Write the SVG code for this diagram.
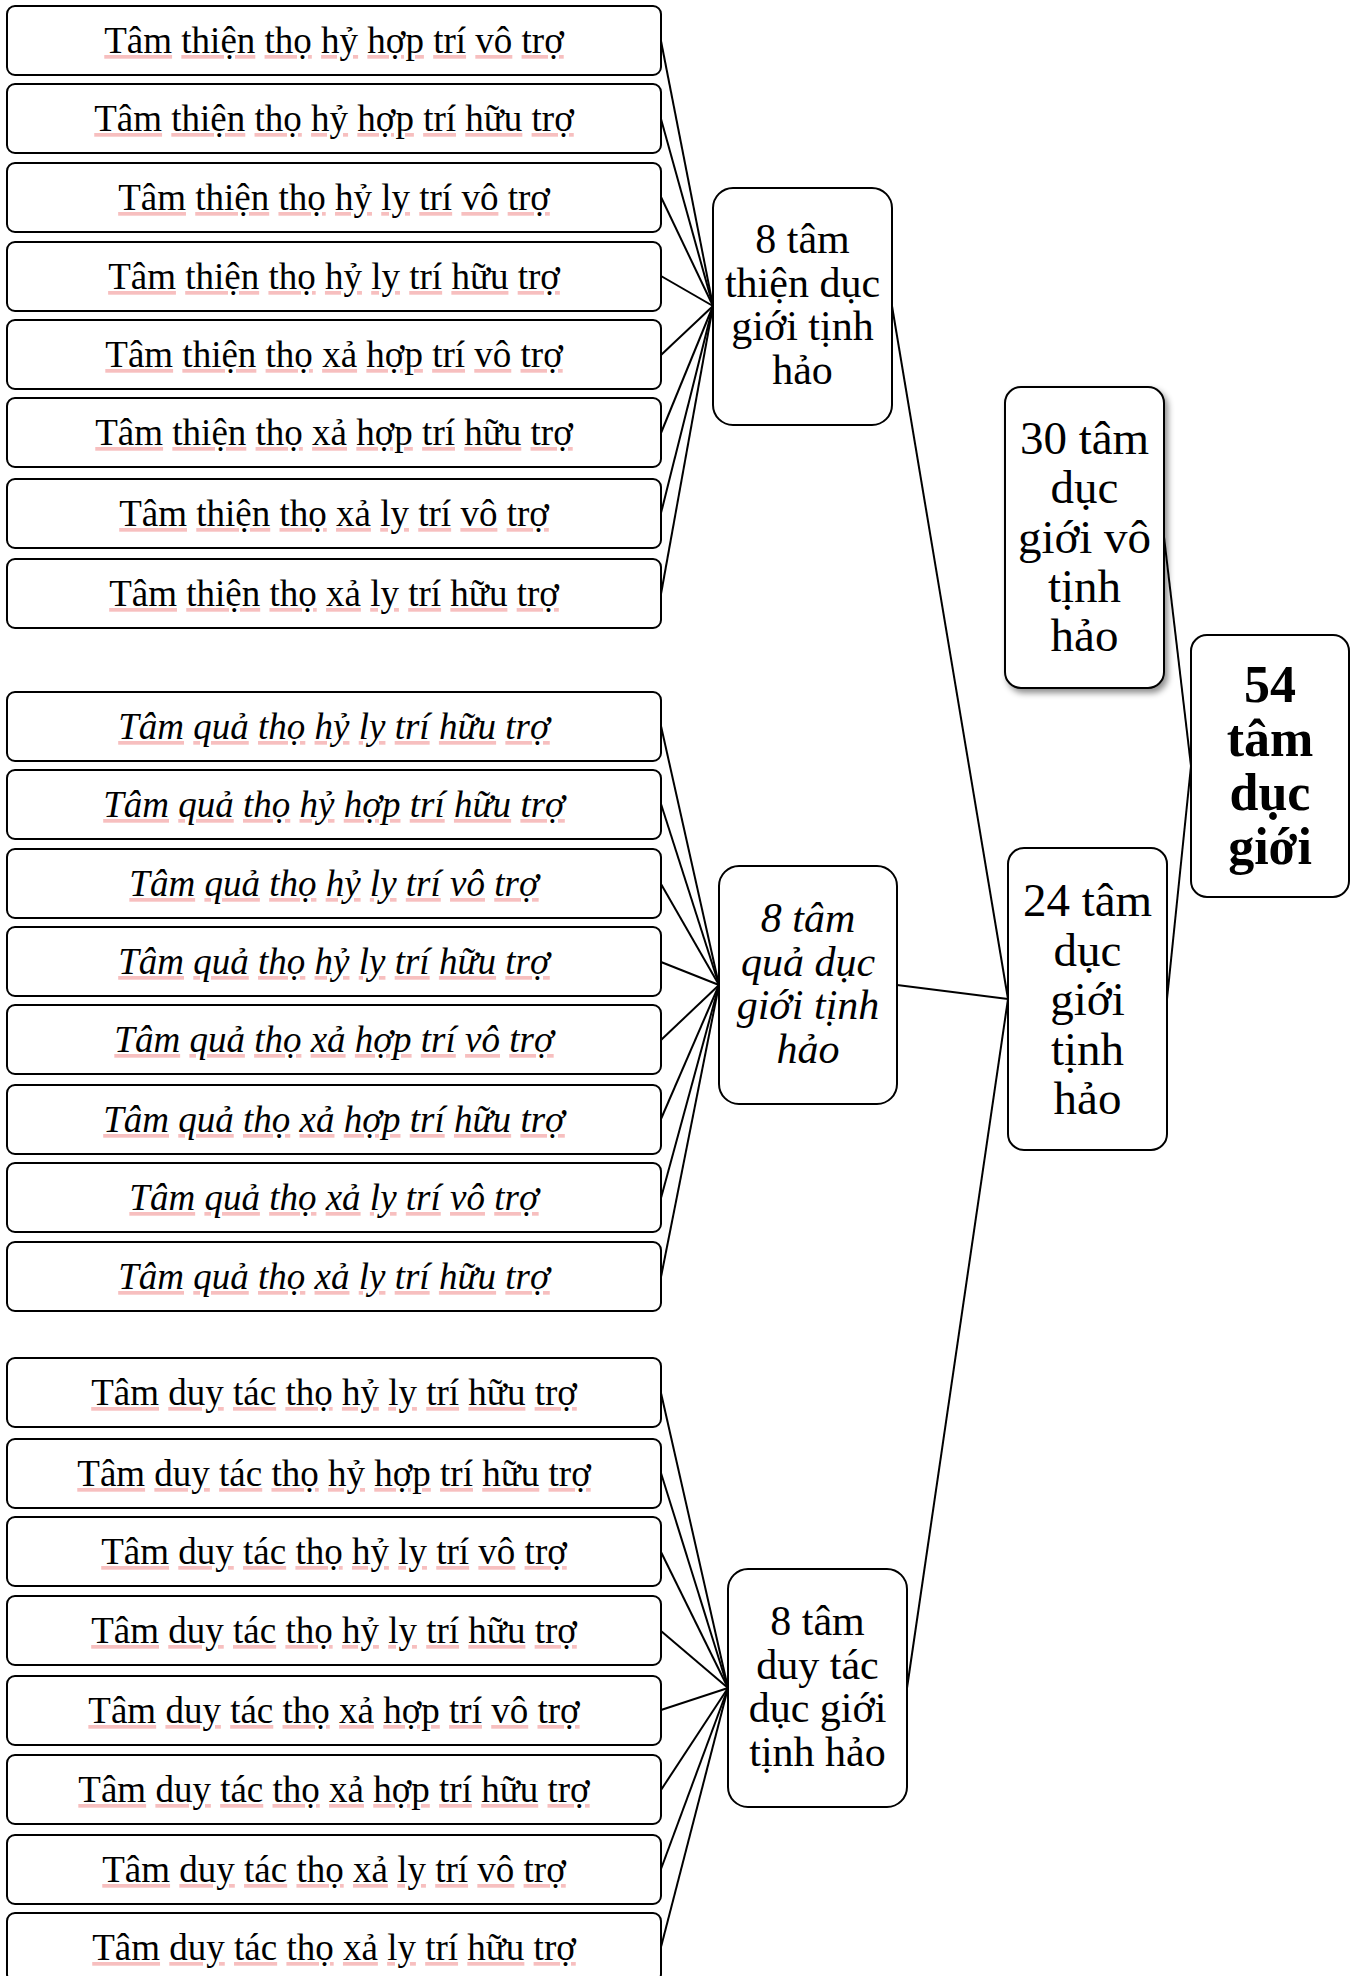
<svg xmlns="http://www.w3.org/2000/svg" width="1357" height="1976" viewBox="0 0 1357 1976">
  <style>
    .box { fill: #ffffff; stroke: #000000; stroke-width: 2; }
    .item { font-family: "Liberation Serif", "Times New Roman", serif; font-size: 37px; fill: #000000; text-anchor: middle; }
    .it { font-style: italic; }
    /* spell-check underline: the decoration takes the fill of the span that declares it */
    .u { text-decoration: underline; fill: #f08a8a; fill-opacity: 0.55; }
    .u tspan { fill: #000000; fill-opacity: 1; }
    .mid { font-family: "Liberation Serif", "Times New Roman", serif; font-size: 42px; fill: #000000; text-anchor: middle; }
    .big { font-family: "Liberation Serif", "Times New Roman", serif; font-size: 47px; fill: #000000; text-anchor: middle; }
    .top { font-family: "Liberation Serif", "Times New Roman", serif; font-size: 52px; font-weight: bold; fill: #000000; text-anchor: middle; }
    .links line { stroke: #000000; stroke-width: 2; }
  </style>
  <defs>
    <filter id="shadow" x="-20%" y="-20%" width="150%" height="150%">
      <feDropShadow dx="3" dy="4" stdDeviation="3" flood-color="#000000" flood-opacity="0.45"/>
    </filter>
  </defs>
  <rect width="1357" height="1976" fill="#ffffff"/>

  <!-- connectors -->
  <g class="links">
    <!-- group 1 to node thien -->
    <line x1="661" y1="41" x2="713" y2="306"/>
    <line x1="661" y1="119" x2="713" y2="306"/>
    <line x1="661" y1="197" x2="713" y2="306"/>
    <line x1="661" y1="276" x2="713" y2="306"/>
    <line x1="661" y1="355" x2="713" y2="306"/>
    <line x1="661" y1="433" x2="713" y2="306"/>
    <line x1="661" y1="513" x2="713" y2="306"/>
    <line x1="661" y1="594" x2="713" y2="306"/>
    <!-- group 2 to node qua -->
    <line x1="661" y1="726" x2="719" y2="985"/>
    <line x1="661" y1="804" x2="719" y2="985"/>
    <line x1="661" y1="884" x2="719" y2="985"/>
    <line x1="661" y1="962" x2="719" y2="985"/>
    <line x1="661" y1="1040" x2="719" y2="985"/>
    <line x1="661" y1="1119" x2="719" y2="985"/>
    <line x1="661" y1="1198" x2="719" y2="985"/>
    <line x1="661" y1="1277" x2="719" y2="985"/>
    <!-- group 3 to node duy tac -->
    <line x1="661" y1="1393" x2="728" y2="1688"/>
    <line x1="661" y1="1473" x2="728" y2="1688"/>
    <line x1="661" y1="1552" x2="728" y2="1688"/>
    <line x1="661" y1="1631" x2="728" y2="1688"/>
    <line x1="661" y1="1710" x2="728" y2="1688"/>
    <line x1="661" y1="1790" x2="728" y2="1688"/>
    <line x1="661" y1="1869" x2="728" y2="1688"/>
    <line x1="661" y1="1947" x2="728" y2="1688"/>
    <!-- middle nodes to 24 -->
    <line x1="892" y1="306" x2="1008" y2="999"/>
    <line x1="897" y1="985" x2="1008" y2="999"/>
    <line x1="907" y1="1688" x2="1008" y2="999"/>
    <!-- 30 and 24 to 54 -->
    <line x1="1164" y1="537" x2="1191" y2="766"/>
    <line x1="1167" y1="999" x2="1191" y2="766"/>
  </g>

  <!-- group 1: wholesome -->
  <g id="thien-1"><rect class="box" x="7" y="6" width="654" height="69" rx="8"/>
    <text class="item" x="334" y="53"><tspan class="u"><tspan>Tâm</tspan></tspan> <tspan class="u"><tspan>thiện</tspan></tspan> <tspan class="u"><tspan>thọ</tspan></tspan> <tspan class="u"><tspan>hỷ</tspan></tspan> <tspan class="u"><tspan>hợp</tspan></tspan> <tspan class="u"><tspan>trí</tspan></tspan> <tspan class="u"><tspan>vô</tspan></tspan> <tspan class="u"><tspan>trợ</tspan></tspan></text></g>
  <g id="thien-2"><rect class="box" x="7" y="84" width="654" height="69" rx="8"/>
    <text class="item" x="334" y="131"><tspan class="u"><tspan>Tâm</tspan></tspan> <tspan class="u"><tspan>thiện</tspan></tspan> <tspan class="u"><tspan>thọ</tspan></tspan> <tspan class="u"><tspan>hỷ</tspan></tspan> <tspan class="u"><tspan>hợp</tspan></tspan> <tspan class="u"><tspan>trí</tspan></tspan> <tspan class="u"><tspan>hữu</tspan></tspan> <tspan class="u"><tspan>trợ</tspan></tspan></text></g>
  <g id="thien-3"><rect class="box" x="7" y="163" width="654" height="69" rx="8"/>
    <text class="item" x="334" y="210"><tspan class="u"><tspan>Tâm</tspan></tspan> <tspan class="u"><tspan>thiện</tspan></tspan> <tspan class="u"><tspan>thọ</tspan></tspan> <tspan class="u"><tspan>hỷ</tspan></tspan> <tspan class="u"><tspan>ly</tspan></tspan> <tspan class="u"><tspan>trí</tspan></tspan> <tspan class="u"><tspan>vô</tspan></tspan> <tspan class="u"><tspan>trợ</tspan></tspan></text></g>
  <g id="thien-4"><rect class="box" x="7" y="242" width="654" height="69" rx="8"/>
    <text class="item" x="334" y="289"><tspan class="u"><tspan>Tâm</tspan></tspan> <tspan class="u"><tspan>thiện</tspan></tspan> <tspan class="u"><tspan>thọ</tspan></tspan> <tspan class="u"><tspan>hỷ</tspan></tspan> <tspan class="u"><tspan>ly</tspan></tspan> <tspan class="u"><tspan>trí</tspan></tspan> <tspan class="u"><tspan>hữu</tspan></tspan> <tspan class="u"><tspan>trợ</tspan></tspan></text></g>
  <g id="thien-5"><rect class="box" x="7" y="320" width="654" height="69" rx="8"/>
    <text class="item" x="334" y="367"><tspan class="u"><tspan>Tâm</tspan></tspan> <tspan class="u"><tspan>thiện</tspan></tspan> <tspan class="u"><tspan>thọ</tspan></tspan> <tspan class="u"><tspan>xả</tspan></tspan> <tspan class="u"><tspan>hợp</tspan></tspan> <tspan class="u"><tspan>trí</tspan></tspan> <tspan class="u"><tspan>vô</tspan></tspan> <tspan class="u"><tspan>trợ</tspan></tspan></text></g>
  <g id="thien-6"><rect class="box" x="7" y="398" width="654" height="69" rx="8"/>
    <text class="item" x="334" y="445"><tspan class="u"><tspan>Tâm</tspan></tspan> <tspan class="u"><tspan>thiện</tspan></tspan> <tspan class="u"><tspan>thọ</tspan></tspan> <tspan class="u"><tspan>xả</tspan></tspan> <tspan class="u"><tspan>hợp</tspan></tspan> <tspan class="u"><tspan>trí</tspan></tspan> <tspan class="u"><tspan>hữu</tspan></tspan> <tspan class="u"><tspan>trợ</tspan></tspan></text></g>
  <g id="thien-7"><rect class="box" x="7" y="479" width="654" height="69" rx="8"/>
    <text class="item" x="334" y="526"><tspan class="u"><tspan>Tâm</tspan></tspan> <tspan class="u"><tspan>thiện</tspan></tspan> <tspan class="u"><tspan>thọ</tspan></tspan> <tspan class="u"><tspan>xả</tspan></tspan> <tspan class="u"><tspan>ly</tspan></tspan> <tspan class="u"><tspan>trí</tspan></tspan> <tspan class="u"><tspan>vô</tspan></tspan> <tspan class="u"><tspan>trợ</tspan></tspan></text></g>
  <g id="thien-8"><rect class="box" x="7" y="559" width="654" height="69" rx="8"/>
    <text class="item" x="334" y="606"><tspan class="u"><tspan>Tâm</tspan></tspan> <tspan class="u"><tspan>thiện</tspan></tspan> <tspan class="u"><tspan>thọ</tspan></tspan> <tspan class="u"><tspan>xả</tspan></tspan> <tspan class="u"><tspan>ly</tspan></tspan> <tspan class="u"><tspan>trí</tspan></tspan> <tspan class="u"><tspan>hữu</tspan></tspan> <tspan class="u"><tspan>trợ</tspan></tspan></text></g>

  <!-- group 2: resultant (italic) -->
  <g id="qua-1"><rect class="box" x="7" y="692" width="654" height="69" rx="8"/>
    <text class="item it" x="334" y="739"><tspan class="u"><tspan>Tâm</tspan></tspan> <tspan class="u"><tspan>quả</tspan></tspan> <tspan class="u"><tspan>thọ</tspan></tspan> <tspan class="u"><tspan>hỷ</tspan></tspan> <tspan class="u"><tspan>ly</tspan></tspan> <tspan class="u"><tspan>trí</tspan></tspan> <tspan class="u"><tspan>hữu</tspan></tspan> <tspan class="u"><tspan>trợ</tspan></tspan></text></g>
  <g id="qua-2"><rect class="box" x="7" y="770" width="654" height="69" rx="8"/>
    <text class="item it" x="334" y="817"><tspan class="u"><tspan>Tâm</tspan></tspan> <tspan class="u"><tspan>quả</tspan></tspan> <tspan class="u"><tspan>thọ</tspan></tspan> <tspan class="u"><tspan>hỷ</tspan></tspan> <tspan class="u"><tspan>hợp</tspan></tspan> <tspan class="u"><tspan>trí</tspan></tspan> <tspan class="u"><tspan>hữu</tspan></tspan> <tspan class="u"><tspan>trợ</tspan></tspan></text></g>
  <g id="qua-3"><rect class="box" x="7" y="849" width="654" height="69" rx="8"/>
    <text class="item it" x="334" y="896"><tspan class="u"><tspan>Tâm</tspan></tspan> <tspan class="u"><tspan>quả</tspan></tspan> <tspan class="u"><tspan>thọ</tspan></tspan> <tspan class="u"><tspan>hỷ</tspan></tspan> <tspan class="u"><tspan>ly</tspan></tspan> <tspan class="u"><tspan>trí</tspan></tspan> <tspan class="u"><tspan>vô</tspan></tspan> <tspan class="u"><tspan>trợ</tspan></tspan></text></g>
  <g id="qua-4"><rect class="box" x="7" y="927" width="654" height="69" rx="8"/>
    <text class="item it" x="334" y="974"><tspan class="u"><tspan>Tâm</tspan></tspan> <tspan class="u"><tspan>quả</tspan></tspan> <tspan class="u"><tspan>thọ</tspan></tspan> <tspan class="u"><tspan>hỷ</tspan></tspan> <tspan class="u"><tspan>ly</tspan></tspan> <tspan class="u"><tspan>trí</tspan></tspan> <tspan class="u"><tspan>hữu</tspan></tspan> <tspan class="u"><tspan>trợ</tspan></tspan></text></g>
  <g id="qua-5"><rect class="box" x="7" y="1005" width="654" height="69" rx="8"/>
    <text class="item it" x="334" y="1052"><tspan class="u"><tspan>Tâm</tspan></tspan> <tspan class="u"><tspan>quả</tspan></tspan> <tspan class="u"><tspan>thọ</tspan></tspan> <tspan class="u"><tspan>xả</tspan></tspan> <tspan class="u"><tspan>hợp</tspan></tspan> <tspan class="u"><tspan>trí</tspan></tspan> <tspan class="u"><tspan>vô</tspan></tspan> <tspan class="u"><tspan>trợ</tspan></tspan></text></g>
  <g id="qua-6"><rect class="box" x="7" y="1085" width="654" height="69" rx="8"/>
    <text class="item it" x="334" y="1132"><tspan class="u"><tspan>Tâm</tspan></tspan> <tspan class="u"><tspan>quả</tspan></tspan> <tspan class="u"><tspan>thọ</tspan></tspan> <tspan class="u"><tspan>xả</tspan></tspan> <tspan class="u"><tspan>hợp</tspan></tspan> <tspan class="u"><tspan>trí</tspan></tspan> <tspan class="u"><tspan>hữu</tspan></tspan> <tspan class="u"><tspan>trợ</tspan></tspan></text></g>
  <g id="qua-7"><rect class="box" x="7" y="1163" width="654" height="69" rx="8"/>
    <text class="item it" x="334" y="1210"><tspan class="u"><tspan>Tâm</tspan></tspan> <tspan class="u"><tspan>quả</tspan></tspan> <tspan class="u"><tspan>thọ</tspan></tspan> <tspan class="u"><tspan>xả</tspan></tspan> <tspan class="u"><tspan>ly</tspan></tspan> <tspan class="u"><tspan>trí</tspan></tspan> <tspan class="u"><tspan>vô</tspan></tspan> <tspan class="u"><tspan>trợ</tspan></tspan></text></g>
  <g id="qua-8"><rect class="box" x="7" y="1242" width="654" height="69" rx="8"/>
    <text class="item it" x="334" y="1289"><tspan class="u"><tspan>Tâm</tspan></tspan> <tspan class="u"><tspan>quả</tspan></tspan> <tspan class="u"><tspan>thọ</tspan></tspan> <tspan class="u"><tspan>xả</tspan></tspan> <tspan class="u"><tspan>ly</tspan></tspan> <tspan class="u"><tspan>trí</tspan></tspan> <tspan class="u"><tspan>hữu</tspan></tspan> <tspan class="u"><tspan>trợ</tspan></tspan></text></g>

  <!-- group 3: functional -->
  <g id="duytac-1"><rect class="box" x="7" y="1358" width="654" height="69" rx="8"/>
    <text class="item" x="334" y="1405"><tspan class="u"><tspan>Tâm</tspan></tspan> <tspan class="u"><tspan>duy</tspan></tspan> <tspan class="u"><tspan>tác</tspan></tspan> <tspan class="u"><tspan>thọ</tspan></tspan> <tspan class="u"><tspan>hỷ</tspan></tspan> <tspan class="u"><tspan>ly</tspan></tspan> <tspan class="u"><tspan>trí</tspan></tspan> <tspan class="u"><tspan>hữu</tspan></tspan> <tspan class="u"><tspan>trợ</tspan></tspan></text></g>
  <g id="duytac-2"><rect class="box" x="7" y="1439" width="654" height="69" rx="8"/>
    <text class="item" x="334" y="1486"><tspan class="u"><tspan>Tâm</tspan></tspan> <tspan class="u"><tspan>duy</tspan></tspan> <tspan class="u"><tspan>tác</tspan></tspan> <tspan class="u"><tspan>thọ</tspan></tspan> <tspan class="u"><tspan>hỷ</tspan></tspan> <tspan class="u"><tspan>hợp</tspan></tspan> <tspan class="u"><tspan>trí</tspan></tspan> <tspan class="u"><tspan>hữu</tspan></tspan> <tspan class="u"><tspan>trợ</tspan></tspan></text></g>
  <g id="duytac-3"><rect class="box" x="7" y="1517" width="654" height="69" rx="8"/>
    <text class="item" x="334" y="1564"><tspan class="u"><tspan>Tâm</tspan></tspan> <tspan class="u"><tspan>duy</tspan></tspan> <tspan class="u"><tspan>tác</tspan></tspan> <tspan class="u"><tspan>thọ</tspan></tspan> <tspan class="u"><tspan>hỷ</tspan></tspan> <tspan class="u"><tspan>ly</tspan></tspan> <tspan class="u"><tspan>trí</tspan></tspan> <tspan class="u"><tspan>vô</tspan></tspan> <tspan class="u"><tspan>trợ</tspan></tspan></text></g>
  <g id="duytac-4"><rect class="box" x="7" y="1596" width="654" height="69" rx="8"/>
    <text class="item" x="334" y="1643"><tspan class="u"><tspan>Tâm</tspan></tspan> <tspan class="u"><tspan>duy</tspan></tspan> <tspan class="u"><tspan>tác</tspan></tspan> <tspan class="u"><tspan>thọ</tspan></tspan> <tspan class="u"><tspan>hỷ</tspan></tspan> <tspan class="u"><tspan>ly</tspan></tspan> <tspan class="u"><tspan>trí</tspan></tspan> <tspan class="u"><tspan>hữu</tspan></tspan> <tspan class="u"><tspan>trợ</tspan></tspan></text></g>
  <g id="duytac-5"><rect class="box" x="7" y="1676" width="654" height="69" rx="8"/>
    <text class="item" x="334" y="1723"><tspan class="u"><tspan>Tâm</tspan></tspan> <tspan class="u"><tspan>duy</tspan></tspan> <tspan class="u"><tspan>tác</tspan></tspan> <tspan class="u"><tspan>thọ</tspan></tspan> <tspan class="u"><tspan>xả</tspan></tspan> <tspan class="u"><tspan>hợp</tspan></tspan> <tspan class="u"><tspan>trí</tspan></tspan> <tspan class="u"><tspan>vô</tspan></tspan> <tspan class="u"><tspan>trợ</tspan></tspan></text></g>
  <g id="duytac-6"><rect class="box" x="7" y="1755" width="654" height="69" rx="8"/>
    <text class="item" x="334" y="1802"><tspan class="u"><tspan>Tâm</tspan></tspan> <tspan class="u"><tspan>duy</tspan></tspan> <tspan class="u"><tspan>tác</tspan></tspan> <tspan class="u"><tspan>thọ</tspan></tspan> <tspan class="u"><tspan>xả</tspan></tspan> <tspan class="u"><tspan>hợp</tspan></tspan> <tspan class="u"><tspan>trí</tspan></tspan> <tspan class="u"><tspan>hữu</tspan></tspan> <tspan class="u"><tspan>trợ</tspan></tspan></text></g>
  <g id="duytac-7"><rect class="box" x="7" y="1835" width="654" height="69" rx="8"/>
    <text class="item" x="334" y="1882"><tspan class="u"><tspan>Tâm</tspan></tspan> <tspan class="u"><tspan>duy</tspan></tspan> <tspan class="u"><tspan>tác</tspan></tspan> <tspan class="u"><tspan>thọ</tspan></tspan> <tspan class="u"><tspan>xả</tspan></tspan> <tspan class="u"><tspan>ly</tspan></tspan> <tspan class="u"><tspan>trí</tspan></tspan> <tspan class="u"><tspan>vô</tspan></tspan> <tspan class="u"><tspan>trợ</tspan></tspan></text></g>
  <g id="duytac-8"><rect class="box" x="7" y="1913" width="654" height="69" rx="8"/>
    <text class="item" x="334" y="1960"><tspan class="u"><tspan>Tâm</tspan></tspan> <tspan class="u"><tspan>duy</tspan></tspan> <tspan class="u"><tspan>tác</tspan></tspan> <tspan class="u"><tspan>thọ</tspan></tspan> <tspan class="u"><tspan>xả</tspan></tspan> <tspan class="u"><tspan>ly</tspan></tspan> <tspan class="u"><tspan>trí</tspan></tspan> <tspan class="u"><tspan>hữu</tspan></tspan> <tspan class="u"><tspan>trợ</tspan></tspan></text></g>

  <!-- middle level -->
  <g id="node-thien"><rect class="box" x="713" y="188" width="179" height="237" rx="20"/>
    <text class="mid" x="802.5"><tspan x="802.5" y="253">8 tâm</tspan><tspan x="802.5" y="296.5">thiện dục</tspan><tspan x="802.5" y="340">giới tịnh</tspan><tspan x="802.5" y="383.5">hảo</tspan></text></g>
  <g id="node-qua"><rect class="box" x="719" y="866" width="178" height="238" rx="20"/>
    <text class="mid it" x="808"><tspan x="808" y="932">8 tâm</tspan><tspan x="808" y="975.5">quả dục</tspan><tspan x="808" y="1019">giới tịnh</tspan><tspan x="808" y="1062.5">hảo</tspan></text></g>
  <g id="node-duytac"><rect class="box" x="728" y="1569" width="179" height="238" rx="20"/>
    <text class="mid" x="817.5"><tspan x="817.5" y="1635">8 tâm</tspan><tspan x="817.5" y="1678.5">duy tác</tspan><tspan x="817.5" y="1722">dục giới</tspan><tspan x="817.5" y="1765.5">tịnh hảo</tspan></text></g>

  <!-- second level -->
  <g id="node-30"><rect class="box" x="1005" y="387" width="159" height="301" rx="16" filter="url(#shadow)"/>
    <text class="big" x="1084.5"><tspan x="1084.5" y="454">30 tâm</tspan><tspan x="1084.5" y="503">dục</tspan><tspan x="1084.5" y="552.5">giới vô</tspan><tspan x="1084.5" y="602">tịnh</tspan><tspan x="1084.5" y="651">hảo</tspan></text></g>
  <g id="node-24"><rect class="box" x="1008" y="848" width="159" height="302" rx="16"/>
    <text class="big" x="1087.5"><tspan x="1087.5" y="916">24 tâm</tspan><tspan x="1087.5" y="965.5">dục</tspan><tspan x="1087.5" y="1015">giới</tspan><tspan x="1087.5" y="1064.5">tịnh</tspan><tspan x="1087.5" y="1114">hảo</tspan></text></g>

  <!-- root -->
  <g id="node-54"><rect class="box" x="1191" y="635" width="158" height="262" rx="16"/>
    <text class="top" x="1270"><tspan x="1270" y="702">54</tspan><tspan x="1270" y="756">tâm</tspan><tspan x="1270" y="810">dục</tspan><tspan x="1270" y="864">giới</tspan></text></g>
</svg>
